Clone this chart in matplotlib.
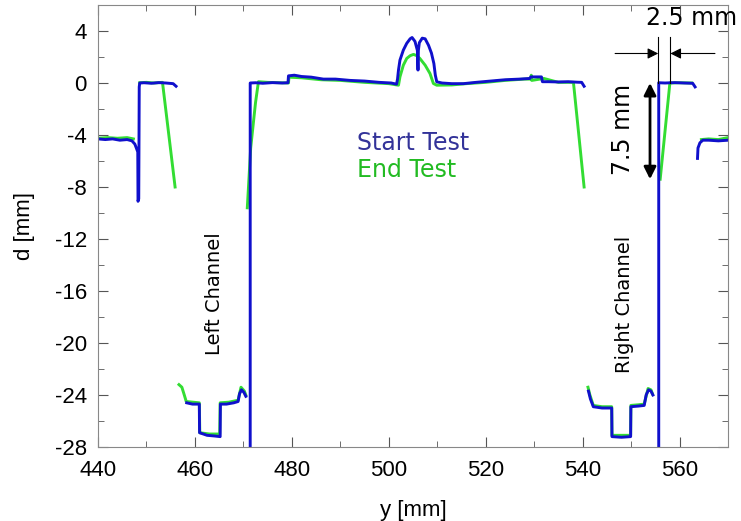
import numpy as np
import matplotlib.pyplot as plt
from matplotlib.ticker import MultipleLocator

plt.rcParams['axes.unicode_minus'] = False

# Start test profile (blue), one list per continuous trace
start_left_x = [440, 441.5, 443, 444.5, 446, 447, 447.6, 448.0, 448.2, 448.25, 448.4, 448.5, 448.6, 449.5, 451, 452.5, 454, 455.5, 456.1]
start_left_y = [-4.3, -4.35, -4.3, -4.4, -4.35, -4.45, -4.7, -5.1, -5.3, -9.1, -8.9, -0.3, 0.0, 0.02, -0.02, 0.03, 0.0, -0.05, -0.25]

start_lbot_x = [458.3, 459.5, 460.9, 460.95, 462.5, 464, 465.2, 465.25, 466.5, 468, 468.9, 469.2, 469.6, 470.1, 470.5]
start_lbot_y = [-24.6, -24.7, -24.7, -26.9, -27.1, -27.15, -27.2, -24.7, -24.7, -24.6, -24.5, -23.9, -23.6, -23.8, -24.1]

start_mid_x = [471.4, 471.4, 472.5, 474, 476, 478, 479.2, 479.3, 480.5, 482, 484, 486.5, 489, 492, 495, 498,
               500.5, 501.6, 501.8, 502.0, 502.3, 503.0, 503.7, 504.4, 504.8, 505.4, 505.9, 506.0, 506.05, 506.1,
               506.3, 506.9, 507.5, 508.2, 508.8, 509.3, 509.6, 509.9, 511, 513, 515.4, 518, 521, 524, 527, 529.1,
               529.3, 531.5, 531.7, 533, 535, 537, 539, 539.8, 540.3]
start_mid_y = [-30, 0.0, 0.02, -0.02, 0.03, 0.0, 0.02, 0.55, 0.6, 0.5, 0.45, 0.3, 0.3, 0.2, 0.15, 0.05,
               0.0, -0.09, 0.3, 1.0, 1.76, 2.53, 3.05, 3.4, 3.5, 3.2, 2.5, 1.0, 1.0, 2.5,
               3.1, 3.45, 3.4, 2.9, 2.3, 1.5, 0.6, 0.09, 0.0, -0.05, -0.05, 0.05, 0.15, 0.25, 0.3, 0.35,
               0.47, 0.47, 0.1, 0.1, 0.08, 0.1, 0.06, 0.05, -0.25]

start_rbot_x = [541.2, 541.6, 542.2, 544, 546.0, 546.05, 548, 549.9, 549.95, 551.5, 552.7, 553.1, 553.6, 554.1, 554.5]
start_rbot_y = [-23.7, -24.3, -24.9, -25.0, -25.0, -27.2, -27.25, -27.2, -24.9, -24.85, -24.8, -24.0, -23.6, -23.7, -24.0]

start_right_x = [555.7, 555.7, 557, 559, 561, 562.7, 563.2]
start_right_y = [-30, 0.02, 0.0, 0.03, 0.0, -0.02, -0.3]

start_edge_x = [563.7, 563.8, 564.2, 564.8, 566, 568, 570]
start_edge_y = [-5.8, -5.0, -4.6, -4.4, -4.4, -4.45, -4.4]

# End test profile (green)
end_left_x = [440, 442, 444, 446, 447.3]
end_left_y = [-4.25, -4.2, -4.25, -4.2, -4.3]

end_ltop_x = [448.6, 450, 451.5, 453.3, 455.9]
end_ltop_y = [0.02, 0.05, 0.0, 0.05, -8.0]

end_lbot_x = [456.7, 457.3, 457.8, 458.2, 460.9, 461.0, 463, 465.1, 465.2, 467, 468.9, 469.5, 470.2, 470.5]
end_lbot_y = [-23.2, -23.4, -24.0, -24.5, -24.6, -26.9, -27.0, -27.0, -24.6, -24.55, -24.4, -23.4, -23.7, -24.0]

end_mid_x = [470.8, 471.5, 472.5, 473.1, 475, 479.3, 479.4, 482, 486, 490, 495, 500, 502.0, 502.3, 503.0,
             503.7, 504.4, 505.1, 505.8, 506.4, 507.5, 508.5, 509.2, 509.9, 513, 516, 520, 524, 528, 529.3,
             529.4, 529.5, 532, 535, 538.1, 540.3]
end_mid_y = [-9.6, -5.0, -1.5, 0.1, 0.05, 0.0, 0.45, 0.4, 0.25, 0.2, 0.05, -0.05, -0.17, 0.47, 1.37,
             1.89, 2.1, 2.2, 2.1, 1.89, 1.37, 0.73, -0.04, -0.17, -0.15, -0.05, 0.05, 0.2, 0.3, 0.3,
             0.6, 0.2, 0.35, 0.05, 0.05, -8.0]

end_rbot_x = [541.1, 541.5, 542.2, 544, 546.0, 546.05, 548, 549.9, 549.95, 551.5, 552.7, 553.5, 554.1, 554.4]
end_rbot_y = [-23.4, -24.0, -24.8, -24.9, -24.9, -27.1, -27.1, -27.1, -24.8, -24.75, -24.7, -23.5, -23.6, -23.9]

end_right_x = [556.0, 558.0, 560, 562.5]
end_right_y = [-7.4, 0.0, 0.02, 0.0]

end_edge_x = [564.5, 566, 568, 570]
end_edge_y = [-4.35, -4.3, -4.35, -4.2]

start_traces = [(start_left_x, start_left_y), (start_lbot_x, start_lbot_y), (start_mid_x, start_mid_y),
                (start_rbot_x, start_rbot_y), (start_right_x, start_right_y), (start_edge_x, start_edge_y)]
end_traces = [(end_left_x, end_left_y), (end_ltop_x, end_ltop_y), (end_lbot_x, end_lbot_y),
              (end_mid_x, end_mid_y), (end_rbot_x, end_rbot_y), (end_right_x, end_right_y),
              (end_edge_x, end_edge_y)]

blue = '#1010cc'
green = '#33dd33'

fig = plt.figure(figsize=(7.41, 5.21), dpi=100)
ax = fig.add_axes([0.1323, 0.142, 0.8502, 0.8484])

for x, y in end_traces:
    ax.plot(x, y, color=green, lw=2.1, solid_joinstyle='round')
for x, y in start_traces:
    ax.plot(x, y, color=blue, lw=2.1, solid_joinstyle='round')

ax.set_xlim(440, 570)
ax.set_ylim(-28, 6)
ax.xaxis.set_major_locator(MultipleLocator(20))
ax.xaxis.set_minor_locator(MultipleLocator(10))
ax.yaxis.set_minor_locator(MultipleLocator(2))
ax.set_yticks(np.arange(-28, 5, 4))
ax.tick_params(which='both', direction='in', top=True, right=True, color='#555555',
               labelsize=16, labelfontfamily='Liberation Sans')
ax.tick_params(which='major', length=7)
ax.tick_params(which='minor', length=4)
ax.tick_params(axis='x', pad=9)
ax.tick_params(axis='y', pad=8)
for s in ax.spines.values():
    s.set_color('#888888')

ax.set_xlabel('y [mm]', fontsize=16, family='Liberation Sans', labelpad=14)
ax.set_ylabel('d [mm]', fontsize=16, family='Liberation Sans', labelpad=14)

# legend-like labels
ax.text(493.4, -5.18, 'Start Test', color='#333399', fontsize=17)
ax.text(493.4, -7.24, 'End Test', color='#22bb22', fontsize=17)

ax.text(464.1, -16.2, 'Left Channel', rotation=90, fontsize=14, ha='center', va='center')
ax.text(548.7, -17.0, 'Right Channel', rotation=90, fontsize=14, ha='center', va='center')

# channel width dimension
ax.plot([555.6, 555.6], [0, 3.55], color='black', lw=0.8)
ax.plot([558.1, 558.1], [0, 3.55], color='black', lw=0.8)
ax.annotate('', xy=(555.6, 2.27), xytext=(546.7, 2.27),
            arrowprops=dict(arrowstyle='-|>', color='black', lw=0.8, mutation_scale=16,
                            shrinkA=0, shrinkB=0))
ax.annotate('', xy=(558.1, 2.27), xytext=(567.3, 2.27),
            arrowprops=dict(arrowstyle='-|>', color='black', lw=0.8, mutation_scale=16,
                            shrinkA=0, shrinkB=0))
ax.text(562.5, 4.46, '2.5 mm', fontsize=17, ha='center', va='baseline', clip_on=False)

# depth dimension
ax.annotate('', xy=(553.9, -7.4), xytext=(553.9, 0),
            arrowprops=dict(arrowstyle='<|-|>', color='black', lw=2, mutation_scale=18,
                            shrinkA=0, shrinkB=0))
ax.text(548.3, -3.6, '7.5 mm', rotation=90, fontsize=17, ha='center', va='center')

fig.savefig('out.png', dpi=100)
